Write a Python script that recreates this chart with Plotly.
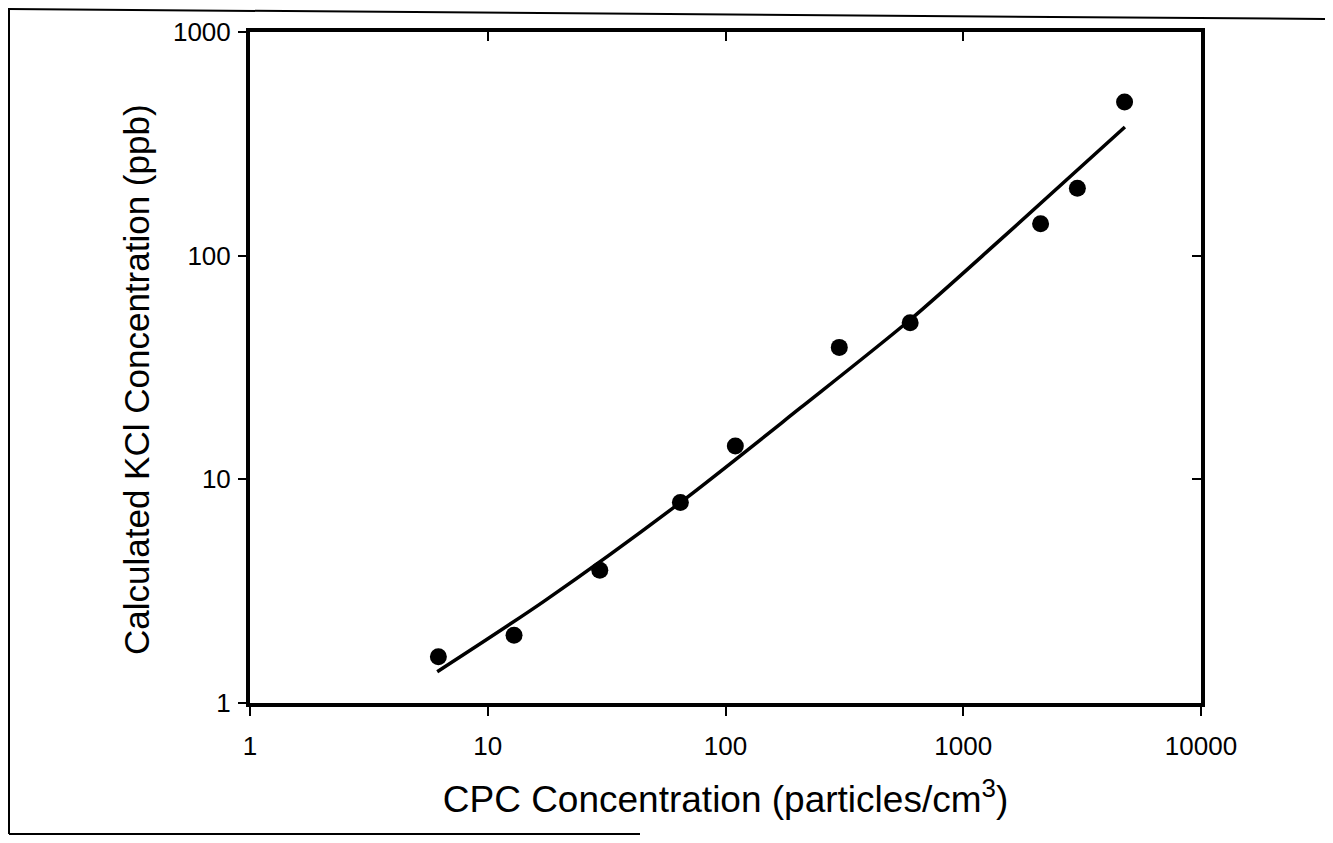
import plotly.graph_objects as go

# Measured data (CPC concentration vs calculated KCl concentration)
cpc_conc = [6.2, 12.9, 29.6, 64.6, 110, 301, 598, 2115, 3020, 4770]
kcl_conc = [1.61, 2.01, 3.92, 7.87, 14.1, 38.9, 50.1, 139, 200, 486]

# Fitted curve, points
fit_x = [6.13, 17.4, 64.5, 207, 598, 1422, 4786]
fit_y = [1.38, 2.87, 7.87, 20.9, 51.7, 117, 376]

x_ticks = [1, 10, 100, 1000, 10000]
x_ticklabels = ["1", "10", "100", "1000", "10000"]
y_ticks = [1, 10, 100, 1000]
y_ticklabels = ["1", "10", "100", "1000"]

# page has an 8px body margin; work in figure pixels
OFF = 8
W, H = 1333 - 2 * OFF, 843 - 2 * OFF
L, R, T, B = 250 - OFF, 1201 - OFF, 32 - OFF, 703 - OFF

FONT = "Liberation Sans, Arial, Helvetica, sans-serif"

fig = go.Figure()
fig.add_trace(go.Scatter(
    x=fit_x, y=fit_y, mode="lines",
    line=dict(color="black", width=3.5, shape="spline", smoothing=0.8),
    showlegend=False, hoverinfo="skip"))
fig.add_trace(go.Scatter(
    x=cpc_conc, y=kcl_conc, mode="markers",
    marker=dict(color="black", size=17, symbol="circle"),
    showlegend=False))
# invisible trace to hold the mirrored (top/right) axes
fig.add_trace(go.Scatter(
    x=[cpc_conc[0]], y=[kcl_conc[0]], xaxis="x2", yaxis="y2",
    mode="markers", marker=dict(opacity=0), showlegend=False, hoverinfo="skip"))


def px_x(p):
    return (p - L) / (R - L)


def px_y(p):
    return (B - p) / (B - T)


# outer chart-area border (partial, as in the scan)
shapes = [
    dict(type="line", xref="paper", yref="paper",
         x0=px_x(0), y0=px_y(1), x1=px_x(W), y1=px_y(11),
         line=dict(color="black", width=2)),
    dict(type="line", xref="paper", yref="paper",
         x0=px_x(1), y0=px_y(1), x1=px_x(1), y1=px_y(H - 1),
         line=dict(color="black", width=2)),
    dict(type="line", xref="paper", yref="paper",
         x0=px_x(1), y0=px_y(H - 1), x1=px_x(632), y1=px_y(H - 1),
         line=dict(color="black", width=2)),
]

annotations = [
    dict(text="Calculated KCl Concentration (ppb)", textangle=-90,
         xref="paper", yref="paper", x=px_x(136 - OFF), y=px_y(380 - OFF),
         xanchor="center", yanchor="middle", showarrow=False,
         font=dict(size=35, family=FONT, color="black")),
]

fig.update_layout(
    width=W, height=H,
    margin=dict(l=L, r=W - R, t=T, b=H - B, autoexpand=False),
    paper_bgcolor="white", plot_bgcolor="white",
    font=dict(family=FONT, color="black"),
    shapes=shapes,
    annotations=annotations,
    xaxis=dict(
        type="log", range=[0, 4], tickvals=x_ticks, ticktext=x_ticklabels,
        showgrid=False, zeroline=False,
        showline=True, linecolor="black", linewidth=4, mirror=True,
        ticks="outside", ticklen=9, tickwidth=2, tickcolor="black",
        tickfont=dict(size=26, family=FONT), ticklabelstandoff=8,
        title=dict(text="CPC Concentration (particles/cm<sup>3</sup>)",
                   font=dict(size=37, family=FONT), standoff=27),
    ),
    yaxis=dict(
        type="log", range=[0, 3], tickvals=y_ticks, ticktext=y_ticklabels,
        showgrid=False, zeroline=False,
        showline=True, linecolor="black", linewidth=4, mirror=True,
        ticks="outside", ticklen=8, tickwidth=2, tickcolor="black",
        tickfont=dict(size=26, family=FONT), ticklabelstandoff=2,
    ),
    xaxis2=dict(
        type="log", range=[0, 4], tickvals=x_ticks, overlaying="x", side="top",
        showgrid=False, zeroline=False, showline=False,
        ticks="inside", ticklen=9, tickwidth=2, tickcolor="black",
        showticklabels=False, anchor="y2",
    ),
    yaxis2=dict(
        type="log", range=[0, 3], tickvals=y_ticks, overlaying="y", side="right",
        showgrid=False, zeroline=False, showline=False,
        ticks="inside", ticklen=9, tickwidth=2, tickcolor="black",
        showticklabels=False, anchor="x2",
    ),
)

fig.write_html("out.html")
